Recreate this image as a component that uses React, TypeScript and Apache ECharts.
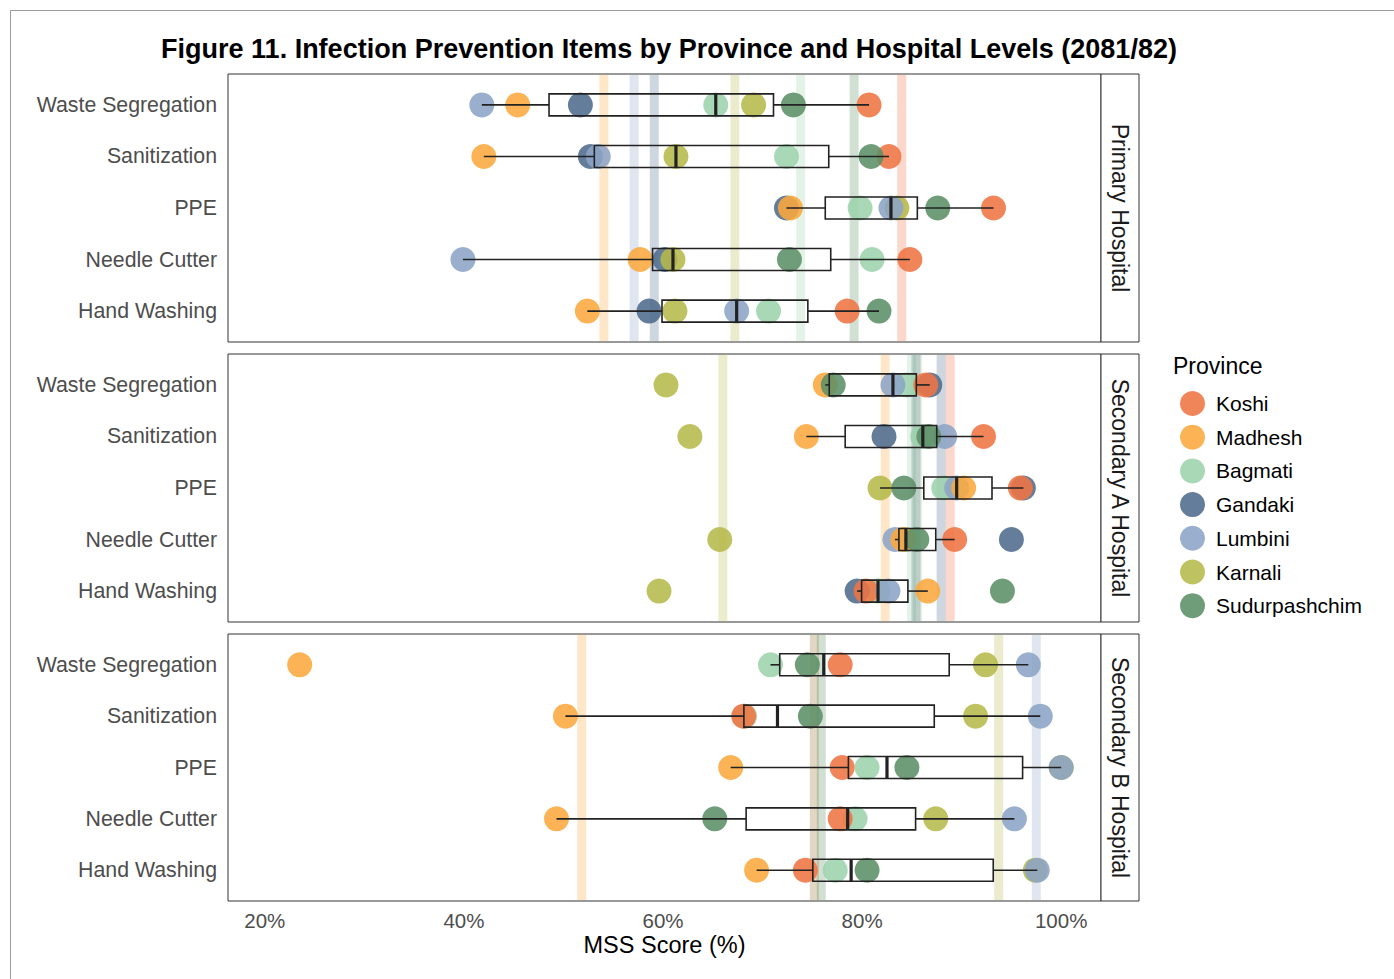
import React, { useEffect, useRef } from "react";
import * as echarts from "echarts";

// Checklist items (rows of every panel, top to bottom)
const items = ["Waste Segregation", "Sanitization", "PPE", "Needle Cutter", "Hand Washing"];

// Hospital levels (one panel each)
const levels = ["Primary Hospital", "Secondary A Hospital", "Secondary B Hospital"];

// Provinces in legend order, with their colours
const provinces = ["Koshi", "Madhesh", "Bagmati", "Gandaki", "Lumbini", "Karnali", "Sudurpashchim"];
const provinceColors = ["#EF7443", "#FAA83D", "#9DD3AC", "#4F6B8D", "#8CA4C6", "#B6BA4A", "#5C8F66"];

// Points are stacked alphabetically (later names drawn on top)
const drawOrder = ["Bagmati", "Gandaki", "Karnali", "Koshi", "Lumbini", "Madhesh", "Sudurpashchim"];

// MSS scores (%) per province (legend order) x item (row order)
const primaryScores: (number | null)[][] = [
  [80.7, 82.7, 93.2, 84.8, 78.5], // Koshi
  [45.4, 42.0, 72.8, 57.7, 52.4], // Madhesh
  [65.3, 72.4, 79.8, 81.0, 70.6], // Bagmati
  [51.7, 52.7, 72.4, 60.2, 58.6], // Gandaki
  [41.8, 53.5, 82.9, 39.9, 67.4], // Lumbini
  [69.1, 61.3, 83.5, 61.0, 61.2], // Karnali
  [73.1, 80.9, 87.6, 72.7, 81.7], // Sudurpashchim
];

const secondaryAScores: (number | null)[][] = [
  [86.4, 92.2, 95.9, 89.3, 80.4], // Koshi
  [76.3, 74.4, 90.2, 84.1, 86.6], // Madhesh
  [84.5, 86.1, 88.2, 84.4, 81.6], // Bagmati
  [86.8, 82.2, 96.2, 95.0, 79.5], // Gandaki
  [83.1, 88.3, 89.5, 83.3, 82.6], // Lumbini
  [60.3, 62.7, 81.8, 65.7, 59.6], // Karnali
  [77.1, 86.7, 84.2, 85.5, 94.1], // Sudurpashchim
];

const secondaryBScores: (number | null)[][] = [
  [77.8, 68.1, 78.0, 77.8, 74.3], // Koshi
  [23.5, 50.2, 66.8, 49.3, 69.4], // Madhesh
  [70.8, 68.2, 80.5, 79.3, 77.3], // Bagmati
  [null, null, null, null, null], // Gandaki
  [96.7, 97.9, 100.0, 95.3, 97.6], // Lumbini
  [92.4, 91.4, 100.0, 87.4, 97.4], // Karnali
  [74.5, 74.8, 84.5, 65.2, 80.5], // Sudurpashchim
];

const xTicks = [20, 40, 60, 80, 100];

const levelScores = [primaryScores, secondaryAScores, secondaryBScores];

const FONT = "Liberation Sans, Arial, Helvetica, sans-serif";
const X_MIN = 16.3;
const X_MAX = 104;
const Y_MIN = 0.4;
const Y_MAX = 5.6;

const panels = [
  { top: 74, height: 268 },
  { top: 354, height: 268 },
  { top: 634, height: 267 },
];
const PANEL_LEFT = 228;
const PANEL_WIDTH = 873;
const STRIP_WIDTH = 38;

function quantile(sorted: number[], p: number): number {
  const h = (sorted.length - 1) * p;
  const lo = Math.floor(h);
  const hi = Math.min(lo + 1, sorted.length - 1);
  return sorted[lo] + (h - lo) * (sorted[hi] - sorted[lo]);
}

// Tukey box statistics: [row, lowerWhisker, q1, median, q3, upperWhisker]
function boxStats(scores: (number | null)[][]) {
  return items.map((_, i) => {
    const vals = scores.map((r) => r[i]).filter((v): v is number => v != null).sort((a, b) => a - b);
    const q1 = quantile(vals, 0.25);
    const med = quantile(vals, 0.5);
    const q3 = quantile(vals, 0.75);
    const iqr = q3 - q1;
    const lo = Math.min(...vals.filter((v) => v >= q1 - 1.5 * iqr));
    const hi = Math.max(...vals.filter((v) => v <= q3 + 1.5 * iqr));
    return [i + 1, lo, q1, med, q3, hi];
  });
}

// Province averages across the five items, per panel
function provinceMeans(scores: (number | null)[][]) {
  const out: number[][] = [];
  scores.forEach((row, p) => {
    const vals = row.filter((v): v is number => v != null);
    if (vals.length) out.push([vals.reduce((a, b) => a + b, 0) / vals.length, p]);
  });
  return out;
}

function buildOption(): echarts.EChartsCoreOption {
  const grid = panels.map((p) => ({
    left: PANEL_LEFT,
    top: p.top,
    width: PANEL_WIDTH,
    height: p.height,
    show: true,
    borderColor: "#333",
    borderWidth: 1,
    backgroundColor: "transparent",
  }));

  const xAxis = panels.map((_, g) => ({
    type: "value",
    gridIndex: g,
    min: X_MIN,
    max: X_MAX,
    axisLine: { show: false },
    axisTick: { show: false },
    splitLine: { show: false },
    axisLabel: {
      show: g === panels.length - 1,
      customValues: xTicks,
      formatter: (v: number) => `${v}%`,
      color: "#4d4d4d",
      fontSize: 20.5,
      fontFamily: FONT,
      margin: 9,
    },
    name: g === panels.length - 1 ? "MSS Score (%)" : "",
    nameLocation: "middle",
    nameGap: 32,
    nameTextStyle: { color: "#000", fontSize: 23.5, fontFamily: FONT },
  }));

  const yAxis = panels.map((_, g) => ({
    type: "value",
    gridIndex: g,
    min: Y_MIN,
    max: Y_MAX,
    inverse: true,
    axisLine: { show: false },
    axisTick: { show: false },
    splitLine: { show: false },
    axisLabel: {
      customValues: [1, 2, 3, 4, 5],
      formatter: (v: number) => items[Math.round(v) - 1] ?? "",
      color: "#4d4d4d",
      fontSize: 21.3,
      fontFamily: FONT,
      margin: 11,
    },
  }));

  const series: any[] = [];

  levelScores.forEach((scores, g) => {
    // translucent vertical bands at each province average
    series.push({
      type: "custom",
      xAxisIndex: g,
      yAxisIndex: g,
      silent: true,
      z: 1,
      data: provinceMeans(scores),
      encode: { x: 0 },
      renderItem: (_params: any, api: any) => {
        const v = api.value(0);
        const p = api.value(1);
        const a = api.coord([v, Y_MIN]);
        const b = api.coord([v, Y_MAX]);
        return {
          type: "line",
          shape: { x1: a[0], y1: a[1] + 1, x2: b[0], y2: b[1] - 1 },
          style: { stroke: provinceColors[p], lineWidth: 9, opacity: 0.28 },
        };
      },
    });

    // province points
    drawOrder.forEach((name) => {
      const p = provinces.indexOf(name);
      const data = scores[p]
        .map((v, i) => (v == null ? null : [v, i + 1]))
        .filter((d) => d != null);
      series.push({
        type: "scatter",
        name,
        xAxisIndex: g,
        yAxisIndex: g,
        z: 2,
        symbol: "circle",
        symbolSize: 25,
        silent: true,
        itemStyle: { color: provinceColors[p], opacity: 0.88 },
        data,
      });
    });

    // box plots
    series.push({
      type: "custom",
      xAxisIndex: g,
      yAxisIndex: g,
      silent: true,
      z: 3,
      data: boxStats(scores),
      encode: { x: [1, 2, 3, 4, 5], y: 0 },
      renderItem: (_params: any, api: any) => {
        const y = api.value(0);
        const lo = api.coord([api.value(1), y]);
        const q1 = api.coord([api.value(2), y]);
        const md = api.coord([api.value(3), y]);
        const q3 = api.coord([api.value(4), y]);
        const hi = api.coord([api.value(5), y]);
        const h = 22;
        const stroke = "#222";
        return {
          type: "group",
          children: [
            { type: "line", shape: { x1: lo[0], y1: lo[1], x2: q1[0], y2: q1[1] }, style: { stroke, lineWidth: 1.6 } },
            { type: "line", shape: { x1: q3[0], y1: q3[1], x2: hi[0], y2: hi[1] }, style: { stroke, lineWidth: 1.6 } },
            {
              type: "rect",
              shape: { x: q1[0], y: q1[1] - h / 2, width: q3[0] - q1[0], height: h },
              style: { fill: "transparent", stroke, lineWidth: 1.6 },
            },
            {
              type: "line",
              shape: { x1: md[0], y1: md[1] - h / 2, x2: md[0], y2: md[1] + h / 2 },
              style: { stroke, lineWidth: 3.2 },
            },
          ],
        };
      },
    });
  });

  const graphic: any[] = [
    // figure frame
    {
      type: "rect",
      shape: { x: 10.5, y: 10.5, width: 1400, height: 1000 },
      style: { fill: "none", stroke: "#9a9a9a", lineWidth: 1 },
      silent: true,
    },
    {
      type: "text",
      x: 1173,
      y: 366,
      style: { text: "Province", fontSize: 23, fontFamily: FONT, fill: "#000", textAlign: "left", textVerticalAlign: "middle" },
    },
  ];

  // facet strips on the right of each panel
  panels.forEach((p, g) => {
    graphic.push({
      type: "rect",
      shape: { x: PANEL_LEFT + PANEL_WIDTH, y: p.top, width: STRIP_WIDTH, height: p.height },
      style: { fill: "#fff", stroke: "#333", lineWidth: 1 },
      silent: true,
    });
    graphic.push({
      type: "text",
      x: PANEL_LEFT + PANEL_WIDTH + STRIP_WIDTH / 2,
      y: p.top + p.height / 2,
      rotation: -Math.PI / 2,
      style: {
        text: levels[g],
        fontSize: 23,
        fontFamily: FONT,
        fill: "#1a1a1a",
        textAlign: "center",
        textVerticalAlign: "middle",
      },
    });
  });

  return {
    animation: false,
    backgroundColor: "#fff",
    title: {
      text: "Figure 11. Infection Prevention Items by Province and Hospital Levels (2081/82)",
      left: 664,
      textAlign: "center",
      top: 30,
      textStyle: { fontSize: 27, fontWeight: "bold", color: "#000", fontFamily: FONT },
    },
    legend: {
      data: provinces,
      orient: "vertical",
      left: 1175,
      top: 386,
      itemWidth: 25,
      itemHeight: 25,
      itemGap: 8.7,
      icon: "circle",
      selectedMode: false,
      textStyle: { fontSize: 21, fontFamily: FONT, color: "#000", padding: [0, 0, 0, 6] },
    },
    grid,
    xAxis,
    yAxis,
    series,
    graphic,
  };
}

export default function App() {
  const ref = useRef<HTMLDivElement>(null);
  useEffect(() => {
    if (!ref.current) return;
    const chart = echarts.init(ref.current, undefined, { renderer: "svg" });
    chart.setOption(buildOption());
    return () => chart.dispose();
  }, []);
  return (
    <div
      ref={ref}
      style={{ position: "fixed", left: 0, top: 0, width: 1394, height: 979, background: "#fff" }}
    />
  );
}
